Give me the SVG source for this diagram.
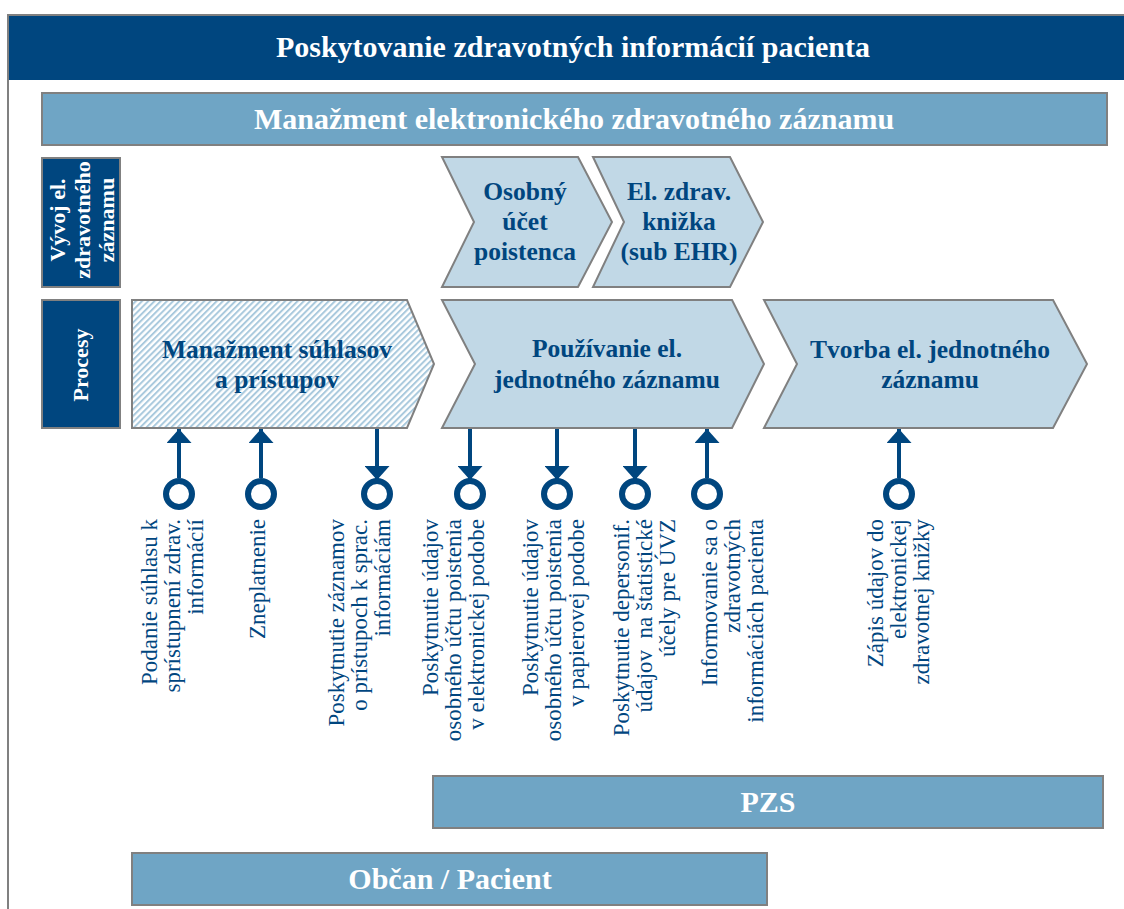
<svg xmlns="http://www.w3.org/2000/svg" width="1124" height="909" viewBox="0 0 1124 909">
<defs>
<style>
.frame{fill:#ffffff;stroke:#808080;stroke-width:2}
.dark{fill:#00467f;stroke:#808080;stroke-width:2}
.mid{fill:#6fa5c5;stroke:#808080;stroke-width:2}
.chev{fill:#c1d8e6;stroke:#808080;stroke-width:2}
.hatch{fill:url(#hatch);stroke:#808080;stroke-width:2}
.wt{fill:#ffffff;font-family:"Liberation Serif","Times New Roman",serif;font-weight:bold}
.bt{fill:#00467f;font-family:"Liberation Serif","Times New Roman",serif;font-weight:bold;font-size:25.5px;text-anchor:middle}
.lbl{fill:#00467f;font-family:"Liberation Serif","Times New Roman",serif;font-size:23px;text-anchor:end}
.conn line{stroke:#00467f;stroke-width:4}
.conn circle{fill:#ffffff;stroke:#00467f;stroke-width:6}
</style>
<pattern id="hatch" patternUnits="userSpaceOnUse" width="4.4" height="4.4" patternTransform="rotate(45)">
<rect x="0" y="0" width="4.4" height="4.4" fill="#ffffff"/>
<rect x="0" y="0" width="2" height="4.4" fill="#a9c9dd"/>
</pattern>
<marker id="ah" viewBox="0 0 14 25" refX="14" refY="12.5" markerWidth="14" markerHeight="25" markerUnits="userSpaceOnUse" orient="auto">
<path d="M0,0 L14,12.5 L0,25 Z" fill="#00467f"/>
</marker>
</defs>

<rect class="frame" x="8" y="15" width="1130" height="910"/>

<g id="title">
<rect x="9" y="16" width="1120" height="64" fill="#00467f"/>
<text class="wt" x="573" y="57" font-size="30" text-anchor="middle">Poskytovanie zdravotných informácií pacienta</text>
</g>

<g id="ehr-bar">
<rect class="mid" x="42" y="93" width="1065" height="52"/>
<text class="wt" x="574" y="129" font-size="30" text-anchor="middle">Manažment elektronického zdravotného záznamu</text>
</g>

<g id="row-vyvoj">
<rect class="dark" x="42" y="158" width="78" height="129"/>
<text class="wt" font-size="22" text-anchor="middle" transform="translate(65,220) rotate(-90)"><tspan x="0" y="0">Vývoj el.</tspan><tspan x="0" dy="24.5">zdravotného</tspan><tspan x="0" dy="24.5">záznamu</tspan></text>
</g>

<g id="row-procesy">
<rect class="dark" x="42" y="300" width="78" height="128"/>
<text class="wt" font-size="22" text-anchor="middle" transform="translate(88,365) rotate(-90)">Procesy</text>
</g>

<g id="osobny-ucet">
<polygon class="chev" points="442,157 578,157 612,222 578,287 442,287 474,222"/>
<text class="bt"><tspan x="525" y="200">Osobný</tspan><tspan x="525" y="230">účet</tspan><tspan x="525" y="260">poistenca</tspan></text>
</g>

<g id="el-zdrav-knizka">
<polygon class="chev" points="593,157 730,157 763,222 730,287 593,287 624,222"/>
<text class="bt"><tspan x="679" y="200">El. zdrav.</tspan><tspan x="679" y="230">knižka</tspan><tspan x="679" y="260">(sub EHR)</tspan></text>
</g>

<g id="manazment-suhlasov">
<polygon class="hatch" points="132,300 407,300 434,364 407,428 132,428"/>
<text class="bt"><tspan x="277" y="358">Manažment súhlasov</tspan><tspan x="277" y="388">a prístupov</tspan></text>
</g>

<g id="pouzivanie">
<polygon class="chev" points="442,300 732,300 764,364 732,428 442,428 475,364"/>
<text class="bt"><tspan x="607" y="357">Používanie el.</tspan><tspan x="607" y="388">jednotného záznamu</tspan></text>
</g>

<g id="tvorba">
<polygon class="chev" points="764,300 1053,300 1087,364 1053,428 764,428 797,364"/>
<text class="bt"><tspan x="930" y="358">Tvorba el. jednotného</tspan><tspan x="930" y="388">záznamu</tspan></text>
</g>

<g id="connectors" class="conn">
<line x1="179" y1="478" x2="179" y2="429" marker-end="url(#ah)"/>
<circle cx="179" cy="494" r="13"/>
<line x1="261" y1="478" x2="261" y2="429" marker-end="url(#ah)"/>
<circle cx="261" cy="494" r="13"/>
<line x1="377" y1="429" x2="377" y2="480" marker-end="url(#ah)"/>
<circle cx="377" cy="494" r="13"/>
<line x1="470" y1="429" x2="470" y2="480" marker-end="url(#ah)"/>
<circle cx="470" cy="494" r="13"/>
<line x1="557" y1="429" x2="557" y2="480" marker-end="url(#ah)"/>
<circle cx="557" cy="494" r="13"/>
<line x1="635" y1="429" x2="635" y2="480" marker-end="url(#ah)"/>
<circle cx="635" cy="494" r="13"/>
<line x1="707" y1="478" x2="707" y2="429" marker-end="url(#ah)"/>
<circle cx="707" cy="494" r="13"/>
<line x1="899" y1="478" x2="899" y2="429" marker-end="url(#ah)"/>
<circle cx="899" cy="494" r="13"/>
</g>

<g id="label-podanie">
<text class="lbl" transform="translate(157,519) rotate(-90)"><tspan x="0" y="0">Podanie súhlasu k</tspan><tspan x="0" dy="23">sprístupnení zdrav.</tspan><tspan x="0" dy="23">informácií</tspan></text>
</g>
<g id="label-zneplatnenie">
<text class="lbl" transform="translate(265,519) rotate(-90)">Zneplatnenie</text>
</g>
<g id="label-zaznamy">
<text class="lbl" transform="translate(344,519) rotate(-90)"><tspan x="0" y="0">Poskytnutie záznamov</tspan><tspan x="0" dy="23">o prístupoch k sprac.</tspan><tspan x="0" dy="23">informáciám</tspan></text>
</g>
<g id="label-elektronicka">
<text class="lbl" transform="translate(438,519) rotate(-90)"><tspan x="0" y="0">Poskytnutie údajov</tspan><tspan x="0" dy="23">osobného účtu poistenia</tspan><tspan x="0" dy="23">v elektronickej podobe</tspan></text>
</g>
<g id="label-papierova">
<text class="lbl" transform="translate(538,519) rotate(-90)"><tspan x="0" y="0">Poskytnutie údajov</tspan><tspan x="0" dy="23">osobného účtu poistenia</tspan><tspan x="0" dy="23">v papierovej podobe</tspan></text>
</g>
<g id="label-depersonif">
<text class="lbl" transform="translate(629,519) rotate(-90)"><tspan x="0" y="0">Poskytnutie depersonif.</tspan><tspan x="0" dy="23" xml:space="preserve">údajov  na štatistické</tspan><tspan x="0" dy="23">účely pre ÚVZ</tspan></text>
</g>
<g id="label-informovanie">
<text class="lbl" transform="translate(717,519) rotate(-90)"><tspan x="0" y="0">Informovanie sa o</tspan><tspan x="0" dy="23">zdravotných</tspan><tspan x="0" dy="23">informáciách pacienta</tspan></text>
</g>
<g id="label-zapis">
<text class="lbl" transform="translate(883,519) rotate(-90)"><tspan x="0" y="0">Zápis údajov do</tspan><tspan x="0" dy="23">elektronickej</tspan><tspan x="0" dy="23">zdravotnej knižky</tspan></text>
</g>

<g id="pzs">
<rect class="mid" x="433" y="776" width="670" height="52"/>
<text class="wt" x="768" y="812" font-size="30" text-anchor="middle">PZS</text>
</g>

<g id="obcan-pacient">
<rect class="mid" x="132" y="853" width="635" height="52"/>
<text class="wt" x="450" y="889" font-size="30" text-anchor="middle">Občan / Pacient</text>
</g>
</svg>
